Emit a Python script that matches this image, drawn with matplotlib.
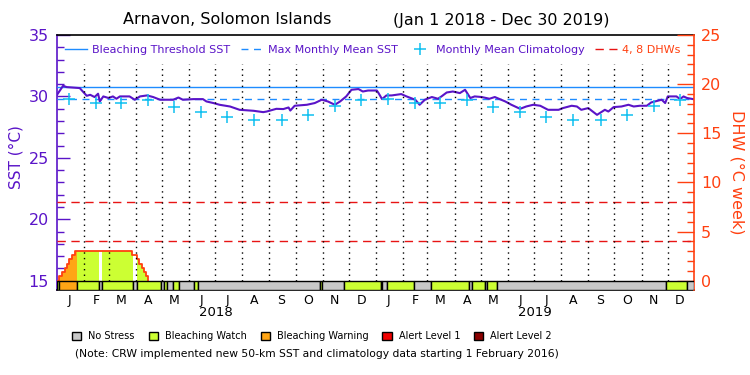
import numpy as np
import matplotlib
matplotlib.use("Agg")
import matplotlib.pyplot as plt
from matplotlib.lines import Line2D
from matplotlib.patches import Patch

# ---------------- data ----------------
start_date = np.datetime64("2018-01-01")
n_days = 729  # Jan 1 2018 .. Dec 30 2019

sst_day = [0, 7, 11, 26, 34, 38, 43, 47, 49, 53, 59, 64, 68, 72, 83, 89, 95, 103, 110, 118,
           133, 139, 144, 156, 167, 171, 179, 186, 198, 209, 225, 236, 240, 251, 259, 265, 267, 272, 286, 295,
           303, 310, 318, 324, 331, 337, 345, 350, 356, 362, 366, 368, 372, 377, 383, 394, 400, 410, 415, 421,
           429, 436, 440, 446, 453, 461, 467, 473, 478, 486, 495, 501, 513, 520, 530, 537, 545, 553, 562, 574,
           579, 589, 595, 600, 608, 618, 627, 631, 637, 646, 654, 660, 667, 675, 680, 692, 696, 699, 709, 713,
           717, 721, 728]
sst_val = [30.13, 30.87, 30.76, 30.68, 30.05, 30.13, 29.95, 30.22, 29.59, 30.0,
           29.87, 30.0, 29.81, 30.0, 30.0, 29.73, 30.0, 30.08, 29.95, 29.73,
           29.73, 29.91, 29.73, 29.78, 29.78, 29.59, 29.46, 29.32, 29.18, 28.91,
           28.83, 28.72, 28.77, 28.99, 28.97, 29.1, 28.85, 29.24, 29.32, 29.46,
           29.73, 29.59, 29.32, 29.59, 30.0, 30.54, 30.6, 30.40, 30.48, 30.48,
           30.48, 30.27, 29.78, 30.08, 30.08, 30.19, 30.0, 29.73, 29.32, 29.73,
           29.95, 29.81, 30.0, 30.32, 30.40, 30.27, 30.54, 29.87, 30.0, 29.95,
           29.81, 29.95, 29.59, 29.32, 28.99, 29.18, 29.32, 29.24, 28.91, 28.91,
           29.05, 29.24, 29.18, 28.91, 29.05, 28.50, 28.91, 28.77, 29.13, 29.18,
           29.32, 29.18, 29.24, 29.24, 29.51, 29.73, 29.46, 30.0, 30.0, 29.78,
           30.0, 29.87, 29.78]

mmm = 29.78
bleach_threshold = 30.78
clim_monthly = [29.78, 29.46, 29.46, 29.67, 29.13, 28.72, 28.32, 28.04, 28.04, 28.50, 29.18, 29.73]

dhw_day = [0, 2, 6, 9, 11, 14, 17, 21, 86, 91, 94, 97, 100, 102, 104.5]
dhw_val = [0, 0.51, 0.92, 1.32, 1.73, 2.18, 2.62, 3.05, 2.62, 2.18, 1.73, 1.32, 0.92, 0.51, 0]
dhw_levels = [4, 8]

status_start = [0, 2, 23, 48, 52, 87, 91, 119, 122, 126, 133, 140, 157, 161, 301, 303, 329, 371, 372,
                378, 409, 428, 472, 475, 490, 492, 504, 697, 721]
status_level = [1, 2, 1, 0, 1, 0, 1, 0, 1, 0, 1, 0, 1, 0, 1, 0, 1, 0, 0,
                1, 0, 1, 0, 1, 0, 1, 0, 1, 0]
status_names = ["No Stress", "Bleaching Watch", "Bleaching Warning", "Alert Level 1", "Alert Level 2"]

month_letters = ["J", "F", "M", "A", "M", "J", "J", "A", "S", "O", "N", "D"]
years = ["2018", "2019"]

# ---------------- styles ----------------
PURPLE = "#5A14C8"
BLUE = "#1E8CFF"
CYAN = "#10C0F0"
RED = "#E81414"
ORANGE_RED = "#FF4010"
status_colors = ["#C8C8C8", "#CCFF33", "#FFA515", "#F00000", "#8B0000"]

fig = plt.figure(figsize=(7.5, 3.75), dpi=100)
ax = fig.add_axes([57/750, 85/375, 637/750, 255/375])
ax2 = ax.twinx()

sst_lo, sst_hi = 14.24, 35.0
dhw_lo, dhw_hi = -0.95, 25.0
ax.set_ylim(sst_lo, sst_hi)
ax2.set_ylim(dhw_lo, dhw_hi)
ax.set_xlim(0, n_days)

# dates
def day_of(y, m, d):
    return float((np.datetime64(f"{y}-{m:02d}-{d:02d}") - start_date).astype(int))

month_starts = []
month_mids = []
for y in (2018, 2019):
    for m in range(1, 13):
        month_starts.append(day_of(y, m, 1))
        month_mids.append(day_of(y, m, 15))

# SST-related lines
ax.plot(sst_day, sst_val, color=PURPLE, lw=1.5, zorder=4)
ax.axhline(bleach_threshold, color=BLUE, lw=1.0, zorder=3)
ax.axhline(mmm, color=BLUE, lw=1.0, dashes=(5, 4), zorder=3)
clim_all = clim_monthly * 2
ax.plot(month_mids, clim_all, linestyle="none", marker="+", markersize=8,
        markeredgewidth=1.1, color=CYAN, zorder=5)

# DHW fill by status
dd = np.array(dhw_day, dtype=float)
dv = np.array(dhw_val, dtype=float)
def dhw_at(x):
    idx = np.searchsorted(dd, x, side="right") - 1
    return dv[np.clip(idx, 0, len(dv) - 1)]

bounds = status_start + [n_days]
for i, lev in enumerate(status_level):
    s, e = bounds[i], bounds[i + 1]
    if lev == 0:
        continue
    xs = np.array([s] + [d for d in dhw_day if s < d < e] + [e], dtype=float)
    vs = dhw_at(xs)
    if vs.max() <= 0:
        continue
    ax2.fill_between(xs, 0, vs, step="post", color=status_colors[lev], lw=0, zorder=2)

ax2.step(dhw_day, dhw_val, where="post", color=ORANGE_RED, lw=1.3, zorder=3)
for lv in dhw_levels:
    ax2.axhline(lv, color=RED, lw=1.0, dashes=(6, 4), zorder=3)

# dotted month lines
for ms in month_starts[1:]:
    ax2.axvline(ms, ymin=9.33/255, ymax=(290-64)/255, color="black", lw=1.0,
                linestyle=(0, (1, 3)), zorder=4)

# status bar
for i, lev in enumerate(status_level):
    s, e = bounds[i], bounds[i + 1]
    ax2.bar(s, -dhw_lo, width=e - s, bottom=dhw_lo, align="edge",
            color=status_colors[lev], edgecolor="black", lw=1.0, zorder=6)

# axes styling
ax.spines["top"].set_color("black")
ax.spines["bottom"].set_color("black")
ax.spines["left"].set_color(PURPLE)
ax.spines["right"].set_visible(False)
for sp in ("top", "bottom", "left"):
    ax2.spines[sp].set_visible(False)
ax2.spines["right"].set_color(ORANGE_RED)
for a in (ax, ax2):
    for sp in a.spines.values():
        sp.set_linewidth(1.2)

ax.set_yticks([15, 20, 25, 30, 35])
ax.set_yticks(np.arange(15, 35, 1), minor=True)
ax.tick_params(axis="y", which="major", direction="in", length=9, width=1, color=PURPLE,
               labelcolor=PURPLE, labelsize=11.5, pad=6)
ax.tick_params(axis="y", which="minor", direction="in", length=5, width=1, color=PURPLE)
ax2.set_yticks([0, 5, 10, 15, 20, 25])
ax2.set_yticks(np.arange(0, 25, 1), minor=True)
ax2.tick_params(axis="y", which="major", direction="in", length=12, width=1, color=ORANGE_RED,
                labelcolor=ORANGE_RED, labelsize=11.5, pad=5)
ax2.tick_params(axis="y", which="minor", direction="in", length=5, width=1, color=ORANGE_RED)

ax.set_xticks(month_mids)
ax.set_xticklabels(month_letters * 2, fontsize=9)
ax.tick_params(axis="x", length=0, pad=3)
for i, yr in enumerate(years):
    ax.text(day_of(2018 + i, 7, 2), -0.09, yr, transform=ax.get_xaxis_transform(),
            ha="center", va="center", fontsize=9.5)

# legend (top)
handles = [Line2D([], [], color=BLUE, lw=1.0),
           Line2D([], [], color=BLUE, lw=1.0, dashes=(5, 4)),
           Line2D([], [], color=CYAN, linestyle="none", marker="+", markersize=8, markeredgewidth=1.1),
           Line2D([], [], color=RED, lw=1.0, dashes=(6, 4))]
labels = ["Bleaching Threshold SST", "Max Monthly Mean SST", "Monthly Mean Climatology", "4, 8 DHWs"]
leg = ax2.legend(handles, labels, ncol=4, loc="center", bbox_to_anchor=(0.496, 0.941),
                 frameon=False, fontsize=8, handlelength=1.9, handletextpad=0.5,
                 columnspacing=1.0, borderpad=0, borderaxespad=0)
for t, c in zip(leg.get_texts(), [PURPLE, PURPLE, PURPLE, ORANGE_RED]):
    t.set_color(c)

# titles & labels
fig.text(227/750, 1 - 20/375, "Arnavon, Solomon Islands", ha="center", va="center", fontsize=11.5)
fig.text(501/750, 1 - 20/375, "(Jan 1 2018 - Dec 30 2019)", ha="center", va="center", fontsize=11.5)
fig.text(16/750, 1 - 157/375, "SST (°C)", rotation=90, ha="center", va="center",
         color=PURPLE, fontsize=11)
fig.text(737/750, 1 - 172/375, "DHW (°C week)", rotation=-90, ha="center", va="center",
         color=ORANGE_RED, fontsize=11.5)

# bottom legend
phandles = [Patch(facecolor=c, edgecolor="black", lw=1.0) for c in status_colors]
fig.legend(phandles, status_names, ncol=5, loc="center", bbox_to_anchor=(312/750, 1 - 336/375),
           frameon=False, fontsize=7, handlelength=0.95, handleheight=0.9, handletextpad=0.7,
           columnspacing=1.45, borderpad=0, borderaxespad=0)
fig.text(317/750, 1 - 354/375,
         "(Note: CRW implemented new 50-km SST and climatology data starting 1 February 2016)",
         ha="center", va="center", fontsize=7.75)

fig.savefig("out.png", dpi=100)
